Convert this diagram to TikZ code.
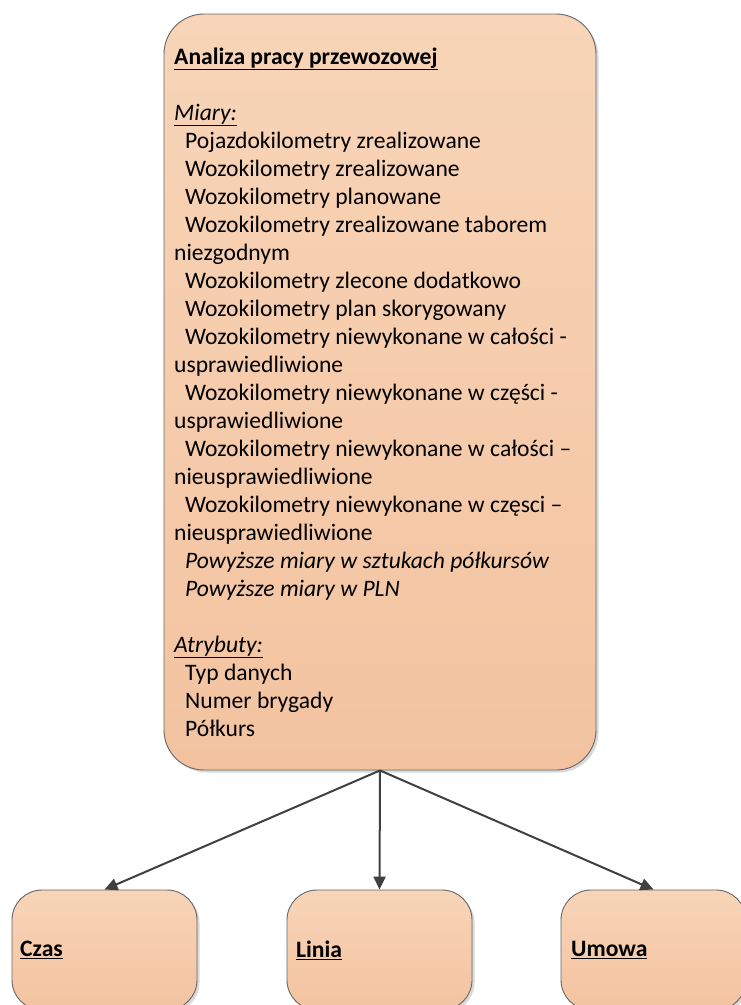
\documentclass[tikz,border=0pt]{standalone}
\usepackage{fontspec}
\setmainfont{Carlito}
\usetikzlibrary{shadows,arrows.meta}
\definecolor{boxtop}{HTML}{F8D5B8}
\definecolor{boxmid}{HTML}{F1CDA9}
\definecolor{boxbot}{HTML}{F3C3A0}
\definecolor{boxline}{HTML}{666666}
\definecolor{arrowgray}{HTML}{404040}
\begin{document}
\begin{tikzpicture}[x=1pt,y=-1pt,
  entity/.style={draw=boxline, line width=0.9pt, rounded corners=#1,
    top color=boxtop, middle color=boxmid, bottom color=boxbot, inner sep=0pt,
    drop shadow={shadow xshift=2.5pt, shadow yshift=-2.5pt, opacity=0.3, fill=black!50}},
  entity/.default=40pt,
  label/.style={font=\fontsize{23.6}{28}\selectfont\bfseries, anchor=west, inner sep=0pt},
  conn/.style={draw=arrowgray, line width=2pt, -{Triangle[length=13pt,width=12pt]}}]
  \useasboundingbox (0,0) rectangle (741,1005);

  % fact box
  \node[entity, minimum width=432pt, minimum height=756pt] (main) at (380,392) {};
  \node[anchor=north west, align=left, inner sep=0pt,
        font=\fontsize{23.6}{28}\selectfont] (maintext) at (174,47.5) {%
    \textbf{\underline{Analiza pracy przewozowej}}\\
    \mbox{}\\
    \textit{\underline{Miary:}}\\
    \hspace*{11pt}Pojazdokilometry zrealizowane\\
    \hspace*{11pt}Wozokilometry zrealizowane\\
    \hspace*{11pt}Wozokilometry planowane\\
    \hspace*{11pt}Wozokilometry zrealizowane taborem\\
    niezgodnym\\
    \hspace*{11pt}Wozokilometry zlecone dodatkowo\\
    \hspace*{11pt}Wozokilometry plan skorygowany\\
    \hspace*{11pt}Wozokilometry niewykonane w całości -\\
    usprawiedliwione\\
    \hspace*{11pt}Wozokilometry niewykonane w części -\\
    usprawiedliwione\\
    \hspace*{11pt}Wozokilometry niewykonane w całości –\\
    nieusprawiedliwione\\
    \hspace*{11pt}Wozokilometry niewykonane w częsci –\\
    nieusprawiedliwione\\
    \hspace*{11pt}\textit{Powyższe miary w sztukach półkursów}\\
    \hspace*{11pt}\textit{Powyższe miary w PLN}\\
    \mbox{}\\
    \textit{\underline{Atrybuty:}}\\
    \hspace*{11pt}Typ danych\\
    \hspace*{11pt}Numer brygady\\
    \hspace*{11pt}Półkurs};

  % dimension boxes
  \node[entity=30pt, minimum width=185pt, minimum height=120pt] (czas) at (104.5,950) {};
  \node[entity=30pt, minimum width=185pt, minimum height=120pt] (linia) at (379.5,950) {};
  \node[entity=30pt, minimum width=185pt, minimum height=120pt] (umowa) at (653.5,950) {};
  \node[label] (czaslabel) at (20,950) {\underline{Czas}};
  \node[label] (linialabel) at (296,950) {\underline{Linia}};
  \node[label] (umowalabel) at (571,950) {\underline{Umowa}};

  % connectors
  \draw[conn] (main.south) -- (czas.north);
  \draw[conn] (main.south) -- (linia.north);
  \draw[conn] (main.south) -- (umowa.north);
\end{tikzpicture}
\end{document}
